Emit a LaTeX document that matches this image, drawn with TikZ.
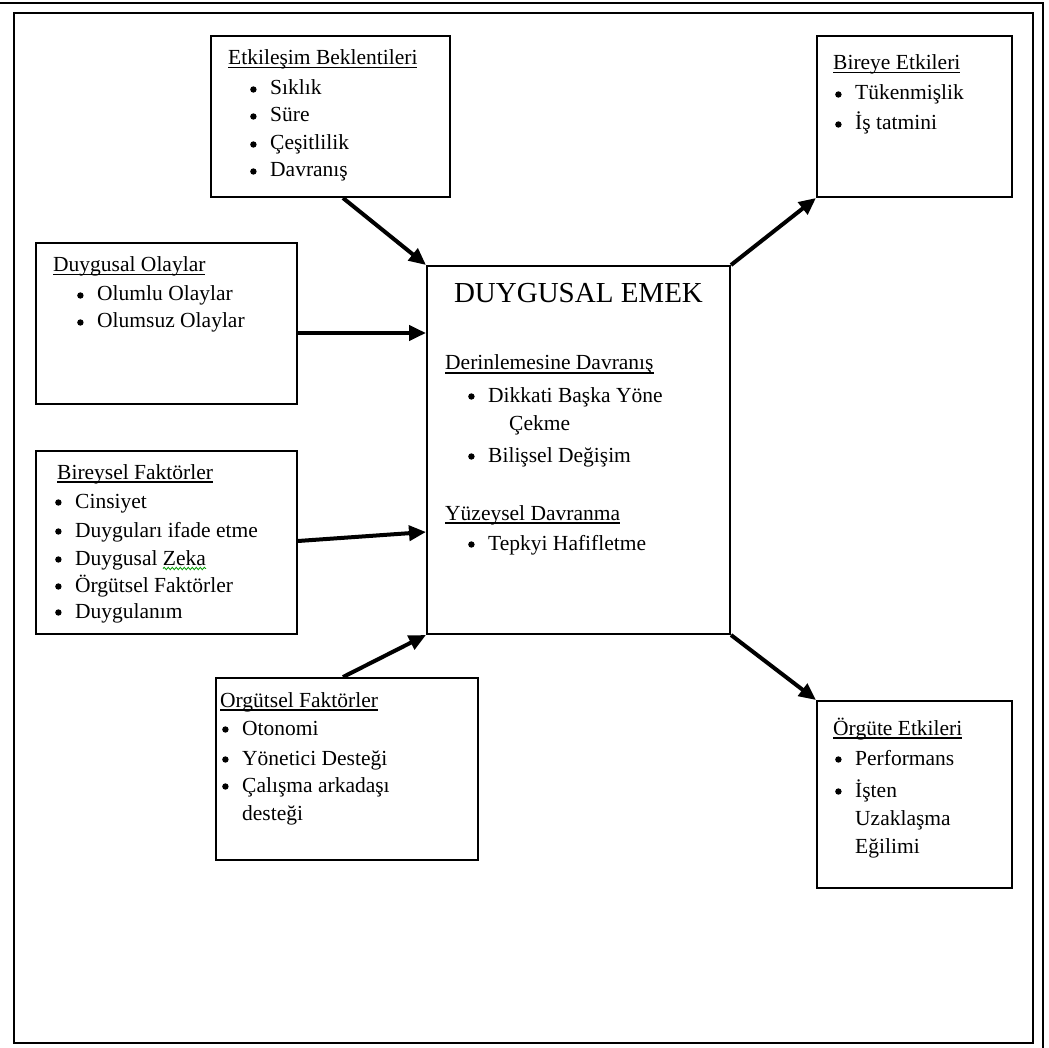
\documentclass[tikz,border=0pt]{standalone}
\usepackage{fontspec}
\setmainfont{Liberation Serif}
\usetikzlibrary{arrows.meta,decorations.pathmorphing}
\newcommand{\ulx}[1]{\setbox0\hbox{#1}\rlap{\rule[-3.5pt]{\wd0}{1.4pt}}\box0}
\newcommand{\blt}{\makebox[20pt][l]{\tikz[baseline=-5.5pt]\fill (0,0) circle (3.2pt);}}
\begin{document}
\begin{tikzpicture}[x=1pt,y=-1pt,
  box/.style={draw,line width=2pt,inner sep=0pt},
  tx/.style={anchor=base west,inner sep=0pt,font=\fontsize{21.5}{28}\selectfont},
  arr/.style={line width=4pt,-{Triangle[length=17pt,width=15pt]}}]
\useasboundingbox (0,0) rectangle (1049,1048);
% page frame
\draw[line width=2.4pt] (14,13) rectangle (1033,1043);
\draw[line width=2pt] (0,3) -- (1043,3) -- (1043,1048);
% boxes
\node[box,minimum width=239pt,minimum height=161pt] (bE) at (330.5,116.5) {};
\node[box,minimum width=261pt,minimum height=161pt] (bO) at (166.5,323.5) {};
\node[box,minimum width=261pt,minimum height=183pt] (bB) at (166.5,542.5) {};
\node[box,minimum width=262pt,minimum height=182pt] (bG) at (347,769) {};
\node[box,minimum width=303pt,minimum height=368pt] (bC) at (578.5,450) {};
\node[box,minimum width=195pt,minimum height=161pt] (bR) at (914.5,116.5) {};
\node[box,minimum width=195pt,minimum height=187pt] (bT) at (914.5,794.5) {};
% Etkilesim
\node[tx] (e0) at (228,65) {\ulx{Etkileşim Beklentileri}};
\node[tx] (e1) at (250,95) {\blt Sıklık};
\node[tx] (e2) at (250,122) {\blt Süre};
\node[tx] (e3) at (250,150) {\blt Çeşitlilik};
\node[tx] (e4) at (250,177) {\blt Davranış};
% Duygusal Olaylar
\node[tx] (o0) at (53,272) {\ulx{Duygusal Olaylar}};
\node[tx] (o1) at (77,301) {\blt Olumlu Olaylar};
\node[tx] (o2) at (77,328) {\blt Olumsuz Olaylar};
% Bireysel
\node[tx] (b0) at (57,479) {\ulx{Bireysel Faktörler}};
\node[tx] (b1) at (55,508) {\blt Cinsiyet};
\node[tx] (b2) at (55,537) {\blt Duyguları ifade etme};
\node[tx] (b3) at (55,565) {\blt Duygusal Zeka};
\node[tx] (b4) at (55,592) {\blt Örgütsel Faktörler};
\node[tx] (b5) at (55,618) {\blt Duygulanım};
\draw[green!60!black,line width=0.8pt,decorate,decoration={snake,amplitude=1.2pt,segment length=4pt}]
  ([xshift=108pt,yshift=-3.5pt]b3.base west) -- ++(43,0);
% Orgutsel
\node[tx] (g0) at (220,707) {\ulx{Orgütsel Faktörler}};
\node[tx] (g1) at (222,735) {\blt Otonomi};
\node[tx] (g2) at (222,765) {\blt Yönetici Desteği};
\node[tx] (g3) at (222,792) {\blt Çalışma arkadaşı};
\node[tx] (g4) at (242,820) {desteği};
% Center
\node[anchor=base,inner sep=0pt,font=\fontsize{29}{34}\selectfont] (c0) at (578.5,303) {DUYGUSAL EMEK};
\node[tx] (c1) at (445,370) {\ulx{Derinlemesine Davranış}};
\node[tx] (c2) at (468,402) {\blt Dikkati Başka Yöne};
\node[tx] (c3) at (509,430) {Çekme};
\node[tx] (c4) at (468,462) {\blt Bilişsel Değişim};
\node[tx] (c5) at (445,520) {\ulx{Yüzeysel Davranma}};
\node[tx] (c6) at (468,550) {\blt Tepkyi Hafifletme};
% Bireye
\node[tx] (r0) at (833,70) {\ulx{Bireye Etkileri}};
\node[tx] (r1) at (835,100) {\blt Tükenmişlik};
\node[tx] (r2) at (835,130) {\blt İş tatmini};
% Orgute
\node[tx] (t0) at (833,735) {\ulx{Örgüte Etkileri}};
\node[tx] (t1) at (835,765) {\blt Performans};
\node[tx] (t2) at (835,797) {\blt İşten};
\node[tx] (t3) at (855,825) {Uzaklaşma};
\node[tx] (t4) at (855,853) {Eğilimi};
% arrows
\draw[arr] ([xshift=12.5pt]bE.south) -- (bC.north west);
\draw[arr] ([yshift=-9.5pt]bO.east) -- ([yshift=117pt]bC.west);
\draw[arr] ([yshift=1.5pt]bB.east) -- ([yshift=-82pt]bC.west);
\draw[arr] ([xshift=-4pt]bG.north) -- (bC.south west);
\draw[arr] (bC.north east) -- (bR.south west);
\draw[arr] (bC.south east) -- (bT.north west);
\end{tikzpicture}
\end{document}
